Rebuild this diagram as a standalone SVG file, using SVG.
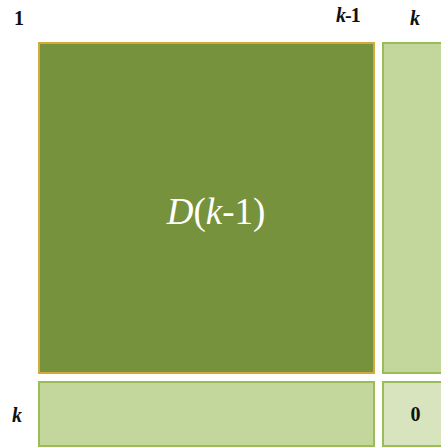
<svg xmlns="http://www.w3.org/2000/svg" width="441" height="448" viewBox="0 0 441 448">
<style>
.lbl{font-family:"Liberation Serif",serif;font-size:20px;font-weight:bold;fill:#111}
.it{font-style:italic}
.dark{fill:#77923C;stroke:#D4A93E;stroke-width:2}
.light{fill:#C3D69B;stroke:#9BBB59;stroke-width:2}
.corner{fill:#D7E4BD;stroke:#9BBB59;stroke-width:2}
</style>
<rect width="441" height="448" fill="#fff"/>
<g id="labels">
<text class="lbl" x="14" y="25">1</text>
<text class="lbl" x="336" y="22" letter-spacing="-1"><tspan class="it">k</tspan>-1</text>
<text class="lbl it" x="410" y="25">k</text>
<text class="lbl it" x="12" y="422" font-size="22">k</text>
</g>
<g id="D">
<rect class="dark" x="39" y="43" width="335" height="330"/>
<text x="216" y="224" text-anchor="middle" style="font-family:'Liberation Serif',serif;font-size:37px;fill:#fff"><tspan font-style="italic">D</tspan>(<tspan font-style="italic">k</tspan>-1)</text>
</g>
<g id="col">
<rect class="light" x="383" y="43" width="62" height="330"/>
</g>
<g id="row">
<rect class="light" x="39" y="382" width="335" height="64"/>
</g>
<g id="corner">
<rect class="corner" x="383" y="382" width="62" height="64"/>
<text class="lbl" x="415.5" y="421" text-anchor="middle" font-size="21">0</text>
</g>
<g id="connectors"/>
</svg>
